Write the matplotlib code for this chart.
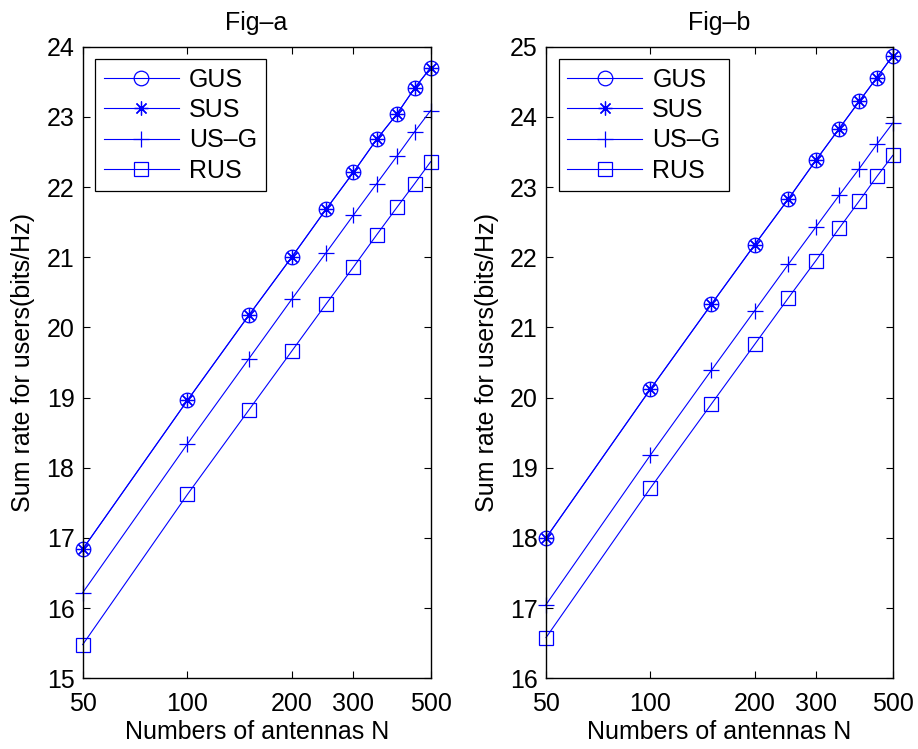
import numpy as np
import matplotlib
matplotlib.use("Agg")
import matplotlib.pyplot as plt

plt.rcParams['font.family'] = ['Liberation Sans', 'DejaVu Sans']

# number of antennas
N = [50, 100, 150, 200, 250, 300, 350, 400, 450, 500]

# Fig-a sum rates (bits/Hz)
gus_a = [16.84, 18.96, 20.17, 21.01, 21.68, 22.21, 22.68, 23.04, 23.41, 23.70]
sus_a = [16.84, 18.96, 20.17, 21.01, 21.68, 22.21, 22.68, 23.04, 23.41, 23.70]
usg_a = [16.22, 18.34, 19.55, 20.41, 21.06, 21.60, 22.05, 22.44, 22.79, 23.09]
rus_a = [15.48, 17.62, 18.82, 19.67, 20.33, 20.86, 21.32, 21.71, 22.05, 22.36]

# Fig-b sum rates (bits/Hz)
gus_b = [18.00, 20.12, 21.33, 22.18, 22.83, 23.38, 23.83, 24.22, 24.56, 24.87]
sus_b = [18.00, 20.12, 21.33, 22.18, 22.83, 23.38, 23.83, 24.22, 24.56, 24.87]
usg_b = [17.05, 19.18, 20.39, 21.24, 21.90, 22.43, 22.88, 23.26, 23.61, 23.91]
rus_b = [16.58, 18.71, 19.91, 20.76, 21.42, 21.95, 22.41, 22.80, 23.15, 23.45]

labels = ['GUS', 'SUS', 'US\u2013G', 'RUS']
xticks = [50, 100, 200, 300, 500]

fig = plt.figure(figsize=(9.18, 7.49), dpi=100)
ax_a = fig.add_axes([0.0901, 0.0944, 0.379, 0.8433])
ax_b = fig.add_axes([0.5948, 0.0944, 0.3777, 0.8433])

fs = 18
panels = [
    (ax_a, [gus_a, sus_a, usg_a, rus_a], 'Fig\u2013a', (15, 24)),
    (ax_b, [gus_b, sus_b, usg_b, rus_b], 'Fig\u2013b', (16, 25)),
]

markers = ['o', (8, 2, 0), '+', 's']
sizes = [10.5, 10, 11, 10]

for ax, series, title, ylim in panels:
    for y, lab, mk, ms in zip(series, labels, markers, sizes):
        ax.semilogx(N, y, color='blue', linewidth=0.8, marker=mk, markersize=ms,
                    markerfacecolor='none', markeredgecolor='blue',
                    markeredgewidth=0.9, label=lab, clip_on=False)
    ax.set_xlim(50, 500)
    ax.set_ylim(*ylim)
    ax.set_xticks(xticks)
    ax.set_xticklabels([str(t) for t in xticks])
    ax.xaxis.set_minor_locator(matplotlib.ticker.NullLocator())
    ax.set_yticks(np.arange(ylim[0], ylim[1] + 1))
    ax.tick_params(direction='in', top=True, right=True, labelsize=fs,
                   length=5, width=0.8)
    ax.tick_params(axis='x', pad=10)
    ax.tick_params(axis='y', pad=6)
    for sp in ax.spines.values():
        sp.set_linewidth(1.0)
    ax.set_title(title, fontsize=fs, pad=12)
    ax.set_xlabel('Numbers of antennas N', fontsize=fs, labelpad=3)
    ax.set_ylabel('Sum rate for users(bits/Hz)', fontsize=fs, labelpad=8)
    leg = ax.legend(loc='upper left', fontsize=fs, fancybox=False,
                    edgecolor='black', framealpha=1, borderaxespad=0.5,
                    handlelength=3.0, labelspacing=0.25, borderpad=0.35,
                    handletextpad=0.4)
    leg.get_frame().set_linewidth(0.9)

fig.savefig('out.png', dpi=100, facecolor='white')
